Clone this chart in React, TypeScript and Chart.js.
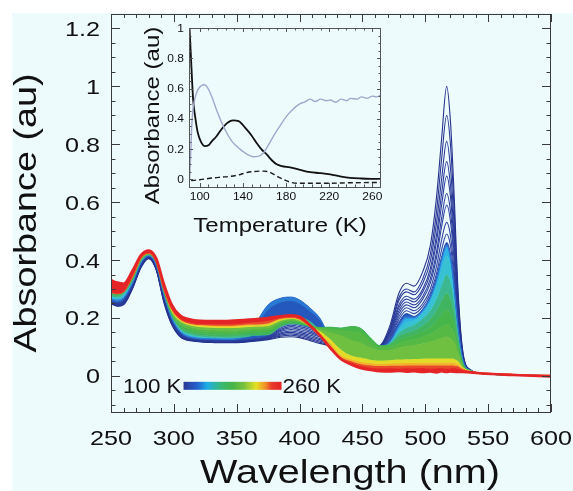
import React, { useEffect, useRef } from "react";
import { Chart, registerables } from "chart.js";
Chart.register(...registerables);

// ---------- main plot data ----------
const WAVELENGTH_NM = [250, 255, 260, 267, 274, 280, 286, 292, 298, 305, 315, 330, 345, 360, 375, 385, 393, 400, 408, 416, 425, 433, 441, 449, 457, 464, 472, 479, 485, 491, 498, 504, 509, 513, 517, 520, 523, 526, 530, 536, 545, 570, 600];

// coldest spectra (navy lines, largest 517 nm peak first)
const COLD_1 = [.25, .24, .245, .30, .375, .405, .365, .255, .18, .135, .12, .115, .114, .118, .125, .133, .135, .132, .122, .112, .104, .102, .106, .104, .10, .105, .175, .285, .32, .31, .36, .45, .62, .82, 1.0, .88, .62, .30, .08, .02, .008, .003, 0];
const COLD_2 = [.248, .243, .248, .302, .377, .406, .367, .258, .182, .137, .121, .116, .115, .119, .127, .137, .14, .136, .126, .116, .107, .105, .108, .106, .101, .104, .165, .27, .30, .29, .335, .42, .57, .75, .90, .80, .57, .28, .075, .02, .008, .003, 0];
const COLD_3 = [.252, .245, .25, .304, .378, .407, .369, .26, .184, .138, .122, .117, .116, .12, .129, .141, .145, .14, .131, .12, .11, .107, .11, .108, .102, .104, .16, .26, .29, .28, .32, .395, .53, .68, .81, .72, .52, .26, .07, .02, .008, .003, 0];
const COLD_4 = [.25, .244, .25, .305, .38, .408, .37, .262, .186, .14, .123, .118, .117, .121, .13, .145, .15, .145, .136, .125, .113, .11, .113, .11, .103, .103, .155, .245, .275, .265, .30, .37, .49, .63, .74, .66, .48, .245, .068, .019, .008, .003, 0];
const COLD_5 = [.255, .247, .253, .307, .381, .409, .372, .265, .188, .141, .124, .119, .118, .122, .132, .149, .155, .15, .141, .129, .116, .113, .116, .113, .104, .103, .15, .235, .265, .255, .29, .355, .465, .59, .69, .62, .45, .235, .066, .019, .008, .003, 0];
const COLD_6 = [.253, .248, .255, .308, .382, .41, .373, .267, .19, .143, .125, .12, .119, .123, .134, .153, .16, .155, .146, .134, .12, .116, .119, .116, .105, .102, .145, .225, .255, .245, .275, .335, .43, .545, .63, .57, .42, .22, .064, .019, .008, .003, 0];
const COLD_7 = [.257, .25, .256, .31, .384, .41, .375, .27, .192, .144, .126, .121, .12, .124, .135, .157, .165, .16, .151, .138, .123, .119, .122, .118, .106, .102, .14, .215, .245, .235, .265, .32, .41, .515, .59, .535, .395, .21, .062, .018, .008, .003, 0];
const COLD_8 = [.255, .249, .258, .311, .385, .411, .376, .272, .194, .146, .127, .122, .121, .125, .137, .161, .17, .165, .156, .142, .126, .122, .125, .121, .107, .101, .135, .205, .235, .225, .25, .30, .38, .47, .53, .485, .36, .195, .06, .018, .008, .003, 0];
const COLD_9 = [.26, .252, .26, .313, .386, .412, .378, .274, .196, .147, .128, .123, .122, .126, .138, .165, .175, .17, .161, .146, .129, .124, .127, .123, .108, .101, .13, .195, .225, .215, .24, .285, .355, .435, .49, .45, .335, .185, .058, .018, .008, .003, 0];
const COLD_10 = [.258, .253, .262, .315, .388, .413, .379, .276, .198, .149, .129, .124, .123, .127, .14, .17, .18, .175, .166, .15, .132, .127, .13, .126, .11, .10, .125, .185, .215, .205, .23, .275, .34, .41, .46, .42, .31, .175, .055, .018, .008, .003, 0];

// warmer spectra (blue -> cyan -> green -> yellow -> red)
const BLUE_1 = [
  .262, .257, .266, .317, .39, .414, .381, .279, .20, .151,
  .13, .126, .125, .15, .245, .268, .272, .262, .235, .20,
  .133, .128, .131, .127, .111, .101, .12, .175, .205, .203,
  .228, .272, .335, .405, .452, .413, .305, .17, .054, .019,
  .008, .003, 0];
const BLUE_2 = [
  .266, .261, .27, .32, .392, .415, .383, .282, .203, .154,
  .133, .128, .127, .145, .23, .255, .26, .25, .225, .195,
  .134, .129, .132, .128, .112, .101, .118, .17, .20, .20,
  .225, .268, .33, .40, .447, .408, .302, .168, .053, .019,
  .008, .003, 0];
const CYAN_1 = [
  .27, .265, .275, .323, .394, .416, .385, .285, .206, .157,
  .136, .13, .129, .133, .20, .228, .235, .23, .21, .17,
  .135, .13, .133, .129, .113, .102, .117, .16, .185, .19,
  .215, .255, .31, .37, .415, .38, .285, .16, .05, .018,
  .008, .003, 0];
const CYAN_2 = [
  .274, .27, .28, .326, .396, .417, .387, .288, .209, .16,
  .139, .132, .131, .135, .175, .20, .21, .205, .19, .16,
  .136, .131, .134, .13, .114, .102, .113, .148, .165, .175,
  .198, .225, .265, .31, .35, .322, .25, .145, .047, .018,
  .008, .003, 0];
const GREEN_1 = [
  .279, .275, .285, .329, .398, .418, .389, .291, .212, .165,
  .145, .137, .136, .14, .142, .17, .18, .178, .17, .165,
  .166, .162, .165, .157, .125, .103, .11, .136, .148, .156,
  .174, .195, .226, .258, .285, .264, .212, .128, .043, .018,
  .008, .003, 0];
const GREEN_2 = [
  .284, .28, .29, .332, .40, .419, .391, .294, .215, .171,
  .152, .144, .143, .147, .15, .175, .184, .181, .172, .167,
  .168, .165, .17, .163, .128, .104, .106, .124, .134, .14,
  .153, .168, .19, .21, .228, .212, .176, .112, .04, .017,
  .008, .003, 0];
const GREEN_3 = [
  .289, .284, .294, .335, .402, .42, .393, .297, .218, .177,
  .159, .151, .15, .154, .157, .18, .188, .184, .172, .166,
  .162, .158, .155, .15, .118, .099, .10, .112, .12, .125,
  .135, .145, .158, .17, .178, .168, .145, .096, .037, .017,
  .008, .003, 0];
const GREEN_4 = [
  .293, .288, .297, .338, .404, .421, .395, .30, .222, .183,
  .166, .158, .157, .161, .164, .185, .192, .187, .172, .162,
  .15, .14, .125, .115, .098, .088, .088, .097, .102, .106,
  .112, .118, .125, .131, .135, .129, .115, .08, .034, .016,
  .008, .003, 0];
const GREEN_5 = [
  .297, .292, .30, .34, .406, .422, .397, .302, .226, .189,
  .172, .166, .165, .169, .172, .19, .196, .191, .171, .155,
  .125, .09, .07, .062, .055, .052, .054, .056, .057, .058,
  .059, .06, .06, .06, .06, .06, .058, .05, .028, .016,
  .008, .003, 0];
const YELLOW_1 = [
  .30, .295, .302, .342, .407, .423, .398, .304, .229, .193,
  .176, .171, .17, .174, .178, .195, .199, .194, .172, .146,
  .108, .07, .056, .048, .043, .041, .042, .043, .044, .044,
  .045, .045, .045, .045, .045, .045, .044, .04, .026, .015,
  .008, .003, 0];
const ORANGE_1 = [
  .302, .298, .304, .344, .408, .424, .399, .306, .232, .195,
  .178, .174, .173, .177, .182, .198, .201, .196, .173, .142,
  .10, .064, .05, .04, .036, .034, .035, .035, .036, .036,
  .036, .036, .036, .036, .036, .036, .035, .033, .022, .014,
  .008, .003, 0];
const RED_1 = [
  .29, .285, .292, .345, .41, .425, .396, .303, .236, .198,
  .182, .178, .178, .183, .19, .201, .204, .199, .173, .139,
  .096, .059, .045, .033, .027, .025, .026, .024, .026, .025,
  .027, .024, .025, .026, .024, .025, .026, .024, .019, .013,
  .009, .004, .001];
const RED_2 = [
  .33, .322, .318, .362, .418, .433, .405, .318, .248, .208,
  .193, .189, .19, .194, .20, .206, .209, .204, .176, .141,
  .093, .057, .039, .026, .02, .016, .015, .017, .014, .016,
  .013, .015, .012, .016, .013, .015, .014, .013, .013, .012,
  .008, .003, -.002];

// axis ticks (labelled) of the main plot
const X_TICKS = [250, 300, 350, 400, 450, 500, 550, 600];
const Y_TICKS = [0, 0.2, 0.4, 0.6, 0.8, 1, 1.2];
const LEGEND_COLD = "100 K";
const LEGEND_WARM = "260 K";

// ---------- inset data ----------
const INSET_T_SOLID = [90.5, 92, 93.8, 96, 98.1, 101, 104.7, 108, 111, 115.5, 120, 125, 130.7, 136, 143.4, 148, 152.7, 157, 162, 167, 171.3, 176, 183.7, 192, 202.3, 211, 221, 230, 239.5, 250, 260, 268];
const INSET_A_SOLID = [1.0, .78, .53, .4, .31, .25, .22, .225, .25, .285, .33, .37, .39, .385, .33, .29, .24, .2, .165, .125, .1, .088, .08, .065, .048, .042, .033, .02, .01, .006, .004, .003];
const INSET_T_GRAY = [90.5, 91.5, 92.3, 93.5, 95.3, 98, 101.6, 104.5, 107.7, 111, 115.5, 120, 124.8, 130, 137.2, 143, 149.6, 154, 158.9, 163, 168.2, 174, 180.7, 186, 193, 197, 202.3, 207, 212, 217, 221, 226, 231, 236, 240, 245.8, 250, 255, 260, 264, 268];
const INSET_A_GRAY = [0.0, .15, .31, .45, .53, .59, .62, .625, .6, .55, .46, .38, .31, .25, .2, .17, .15, .152, .175, .22, .285, .35, .42, .46, .5, .51, .53, .515, .53, .52, .525, .51, .53, .52, .535, .53, .545, .535, .55, .545, .56];
const INSET_T_DASH = [92, 100, 112.4, 120, 127.9, 136, 143.4, 150, 158.9, 164, 168.2, 174, 180.7, 185, 190, 200, 221, 240, 268];
const INSET_A_DASH = [-.008, -.002, .01, .015, .02, .03, .045, .052, .055, .05, .035, .012, -.01, -.02, -.025, -.025, -.025, -.022, -.02];
const INSET_X_TICKS = [100, 140, 180, 220, 260];
const INSET_Y_TICKS = [0, 0.2, 0.4, 0.6, 0.8, 1];

// ---------- styles ----------
const FONT = '"Liberation Sans", Arial, Helvetica, sans-serif';
const STRETCH = 1.2;
const BG = "#eefbfd";
const COLD_SERIES = [COLD_1, COLD_2, COLD_3, COLD_4, COLD_5, COLD_6, COLD_7, COLD_8, COLD_9, COLD_10];
const COLD_COLORS = ["#25338f", "#283894", "#2a3a98", "#2b3c9a", "#2c3e9c", "#2d409e", "#2e42a0", "#2f44a2", "#3046a4", "#3148a6"];
const BAND_SERIES = [BLUE_1, BLUE_2, CYAN_1, CYAN_2, GREEN_1, GREEN_2, GREEN_3, GREEN_4, GREEN_5, YELLOW_1, ORANGE_1, RED_1, RED_2];
const BAND_COLORS = ["#2558bc", "#2a7ad4", "#2eb2e6", "#36c2d2", "#3cb890", "#40b45e", "#46b54a", "#56b944", "#6fc040", "#e2dc28", "#f2b22c", "#ea4a2c", "#e42426"];
const BAND_ORDER = [30, 29, 40, 39, 20, 19, 18, 17, 16, 15, 14, 13, 12];
const BAND_WIDTH = [1, 1, 1, 1, 1, 1, 1, 1, 1, 1, 1, 2, 2.6];
const GRADIENT = [
  [0, "#283896"], [0.14, "#2460cc"], [0.24, "#1eaee6"], [0.38, "#38b878"], [0.5, "#46b448"],
  [0.62, "#7cc23c"], [0.74, "#e4e024"], [0.84, "#f08a2a"], [0.9, "#e83a2a"], [1, "#e42426"],
];

function toPoints(xs: number[], ys: number[]) {
  return xs.map((x, i) => ({ x, y: ys[i] }));
}

function drawText(ctx: CanvasRenderingContext2D, text: string, x: number, y: number, size: number, align: CanvasTextAlign, rotate = false, stretch = STRETCH) {
  ctx.save();
  ctx.translate(x, y);
  if (rotate) ctx.rotate(-Math.PI / 2);
  ctx.scale(stretch, 1);
  ctx.font = `${size}px ${FONT}`;
  ctx.textAlign = align;
  ctx.textBaseline = "alphabetic";
  ctx.fillStyle = "#111111";
  ctx.fillText(text, 0, 0);
  ctx.restore();
}

function seg(ctx: CanvasRenderingContext2D, x1: number, y1: number, x2: number, y2: number) {
  ctx.beginPath();
  ctx.moveTo(x1, y1);
  ctx.lineTo(x2, y2);
  ctx.stroke();
}

const mainAxesPlugin = {
  id: "mainAxes",
  afterDatasetsDraw(chart: any) {
    const { ctx, chartArea } = chart;
    const { left, right, top, bottom } = chartArea;
    const xs = chart.scales.x;
    const ys = chart.scales.y;
    ctx.save();
    ctx.strokeStyle = "#3a3a3a";
    ctx.lineWidth = 1;
    for (let k = 0; k <= 35; k++) {
      const v = 250 + k * 10;
      const px = Math.round(xs.getPixelForValue(v)) + 0.5;
      const len = X_TICKS.includes(v) ? 8 : 4;
      seg(ctx, px, bottom, px, bottom - len);
      seg(ctx, px, top, px, top + len);
    }
    for (let k = -2; k <= 25; k++) {
      const v = k * 0.05;
      const py = Math.round(ys.getPixelForValue(v)) + 0.5;
      const len = k % 4 === 0 ? 9 : 4.5;
      seg(ctx, left, py, left + len, py);
      seg(ctx, right, py, right - len, py);
    }
    ctx.strokeRect(left + 0.5, top + 0.5, right - left - 1, bottom - top);
    const tickSize = 21;
    const cap = 0.716 * tickSize;
    Y_TICKS.forEach((v) => drawText(ctx, String(v), left - 11, ys.getPixelForValue(v) + cap / 2, tickSize, "right"));
    X_TICKS.forEach((v) => drawText(ctx, String(v), xs.getPixelForValue(v), bottom + 25 + cap / 2, tickSize, "center"));
    drawText(ctx, "Wavelength (nm)", (left + right) / 2 + 19, bottom + 71, 33, "center");
    drawText(ctx, "Absorbance (au)", left - 75, (top + bottom) / 2, 32, "center", true, 1.18);
    // temperature colour bar legend
    const lx = left + 12;
    const lbase = ys.getPixelForValue(0) + 17;
    const lstretch = 1.12;
    drawText(ctx, LEGEND_COLD, lx, lbase, 20, "left", false, lstretch);
    ctx.font = `20px ${FONT}`;
    const w1 = ctx.measureText(LEGEND_COLD).width * lstretch;
    const gx0 = lx + w1 + 2;
    const gx1 = gx0 + 98;
    const grad = ctx.createLinearGradient(gx0, 0, gx1, 0);
    GRADIENT.forEach(([o, c]) => grad.addColorStop(o as number, c as string));
    ctx.fillStyle = grad;
    ctx.fillRect(gx0, lbase - 11, gx1 - gx0, 8);
    drawText(ctx, LEGEND_WARM, gx1 + 1, lbase, 20, "left", false, lstretch);
    ctx.restore();
  },
};

const insetAxesPlugin = {
  id: "insetAxes",
  afterDatasetsDraw(chart: any) {
    const { ctx, chartArea } = chart;
    const { left, right, top, bottom } = chartArea;
    const xs = chart.scales.x;
    const ys = chart.scales.y;
    ctx.save();
    ctx.strokeStyle = "#555555";
    ctx.lineWidth = 1;
    for (let k = 0; k <= 20; k++) {
      const v = 100 + k * 8;
      if (v > xs.max) break;
      const px = Math.round(xs.getPixelForValue(v)) + 0.5;
      const len = (v - 100) % 40 === 0 ? 4 : 2.5;
      seg(ctx, px, bottom, px, bottom - len);
      seg(ctx, px, top, px, top + len);
    }
    for (let k = -1; k <= 20; k++) {
      const v = k * 0.05;
      const py = Math.round(ys.getPixelForValue(v)) + 0.5;
      const len = k % 4 === 0 ? 4 : 2.5;
      seg(ctx, left, py, left + len, py);
      seg(ctx, right, py, right - len, py);
    }
    ctx.strokeRect(left + 0.5, top + 0.5, right - left - 1, bottom - top);
    const ts = 10;
    const cap = 0.716 * ts;
    INSET_Y_TICKS.forEach((v) => drawText(ctx, String(v), left - 5, ys.getPixelForValue(v) + cap / 2, ts, "right"));
    INSET_X_TICKS.forEach((v) => drawText(ctx, String(v), xs.getPixelForValue(v), bottom + 9 + cap / 2, ts, "center"));
    drawText(ctx, "Temperature (K)", (left + right) / 2 - 5, bottom + 45, 20, "center");
    drawText(ctx, "Absorbance (au)", left - 30, (top + bottom) / 2 + 8, 20, "center", true);
    ctx.restore();
  },
};

function mainConfig(): any {
  const datasets: any[] = [
    ...COLD_SERIES.map((s, k) => ({
      label: `cold ${k + 1}`,
      data: toPoints(WAVELENGTH_NM, s),
      borderColor: COLD_COLORS[k],
      borderWidth: 1.1,
      pointRadius: 0,
      fill: false,
      order: 50,
    })),
    ...BAND_SERIES.map((s, k) => ({
      label: `band ${k + 1}`,
      data: toPoints(WAVELENGTH_NM, s),
      borderColor: BAND_COLORS[k],
      backgroundColor: BAND_COLORS[k],
      borderWidth: BAND_WIDTH[k],
      pointRadius: 0,
      fill: "-1",
      order: BAND_ORDER[k],
    })),
  ];
  return {
    type: "line",
    data: { datasets },
    options: {
      animation: false,
      responsive: false,
      devicePixelRatio: 1,
      layout: { padding: { left: 111, top: 14, right: 22, bottom: 79 } },
      elements: { line: { cubicInterpolationMode: "monotone" }, point: { radius: 0 } },
      plugins: { legend: { display: false }, tooltip: { enabled: false }, filler: { propagate: false } },
      scales: {
        x: { type: "linear", min: 250, max: 600, display: false },
        y: { type: "linear", min: -0.125, max: 1.25, display: false },
      },
    },
    plugins: [mainAxesPlugin],
  };
}

function insetConfig(): any {
  return {
    type: "line",
    data: {
      datasets: [
        { label: "gray", data: toPoints(INSET_T_GRAY, INSET_A_GRAY), borderColor: "#a2a7cc", borderWidth: 1.4, pointRadius: 0, fill: false },
        { label: "dashed", data: toPoints(INSET_T_DASH, INSET_A_DASH), borderColor: "#1a1a1a", borderWidth: 1.4, borderDash: [5, 3], pointRadius: 0, fill: false },
        { label: "solid", data: toPoints(INSET_T_SOLID, INSET_A_SOLID), borderColor: "#111111", borderWidth: 1.8, pointRadius: 0, fill: false },
      ],
    },
    options: {
      animation: false,
      responsive: false,
      devicePixelRatio: 1,
      layout: { padding: { left: 189, top: 28, right: 192, bottom: 304 } },
      elements: { line: { cubicInterpolationMode: "monotone" }, point: { radius: 0 } },
      plugins: { legend: { display: false }, tooltip: { enabled: false } },
      scales: {
        x: { type: "linear", min: 90, max: 268, display: false },
        y: { type: "linear", min: -0.05, max: 1.0, display: false },
      },
    },
    plugins: [insetAxesPlugin],
  };
}

export default function App() {
  const mainRef = useRef<HTMLCanvasElement>(null);
  const insetRef = useRef<HTMLCanvasElement>(null);
  useEffect(() => {
    const main = new Chart(mainRef.current as HTMLCanvasElement, mainConfig());
    const inset = new Chart(insetRef.current as HTMLCanvasElement, insetConfig());
    return () => {
      main.destroy();
      inset.destroy();
    };
  }, []);
  const full: React.CSSProperties = { position: "absolute", left: 0, top: 0, width: 573, height: 491 };
  return (
    <div style={{ ...full, background: "#ffffff", overflow: "hidden" }}>
      <div style={{ position: "absolute", left: 12, top: 13, width: 561, height: 478, background: BG }} />
      <canvas ref={mainRef} width={573} height={491} style={full} />
      <canvas ref={insetRef} width={573} height={491} style={full} />
    </div>
  );
}
